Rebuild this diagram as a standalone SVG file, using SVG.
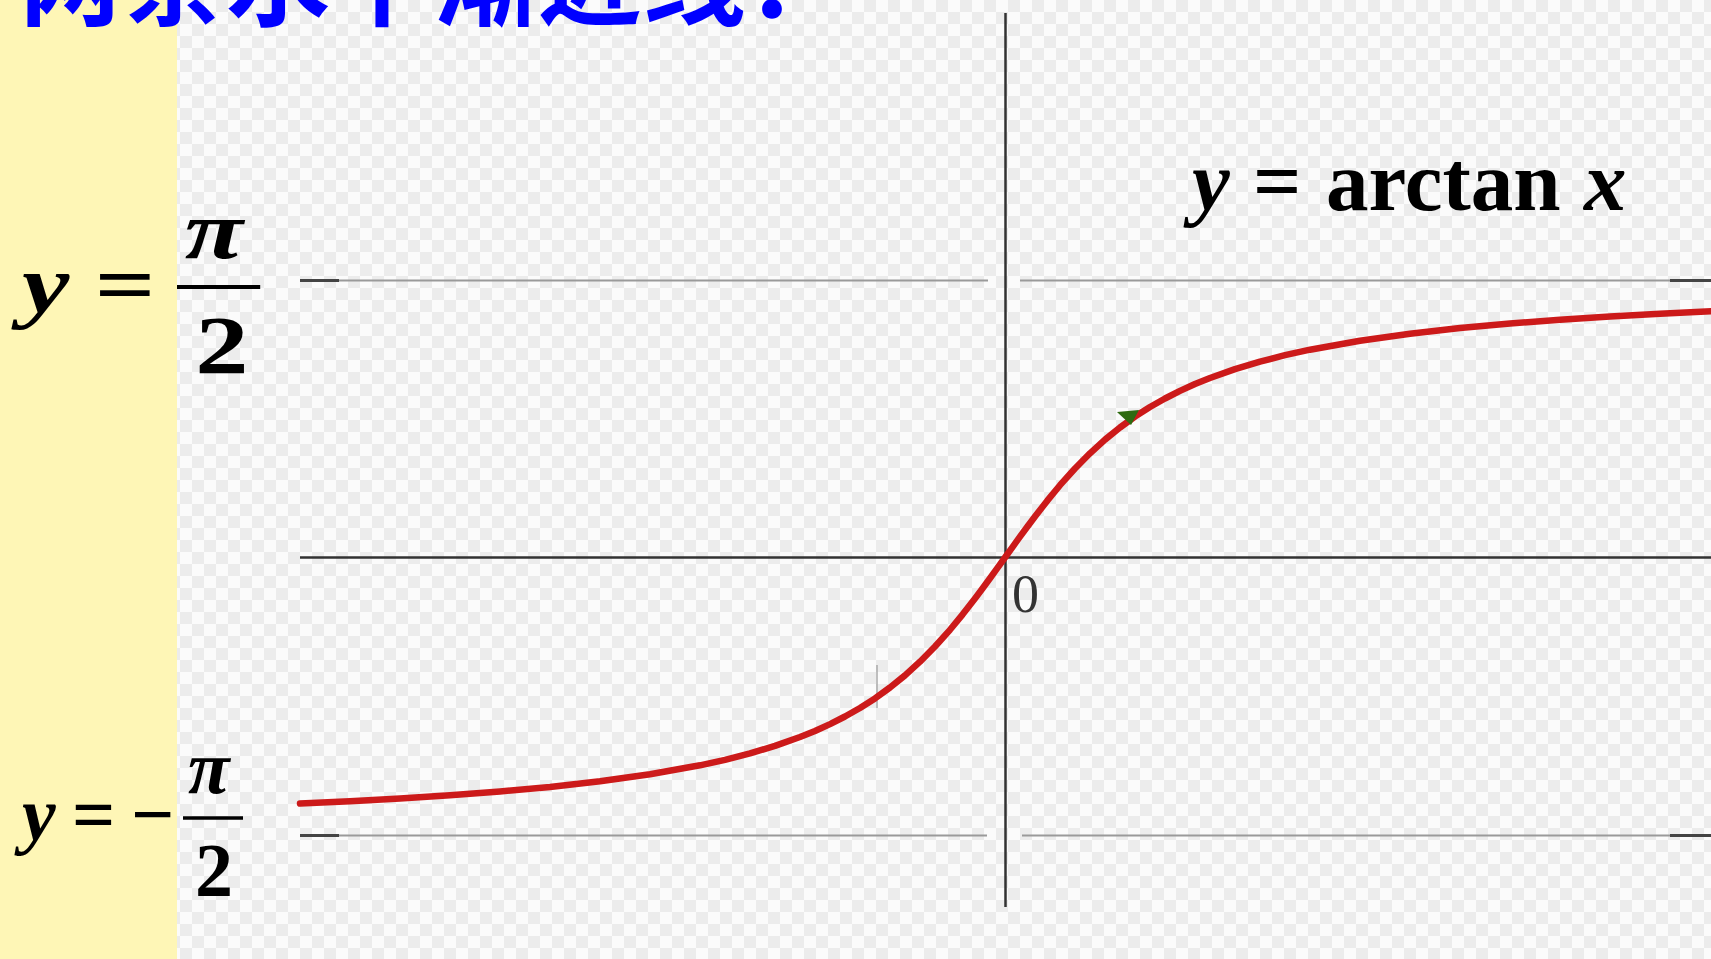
<svg xmlns="http://www.w3.org/2000/svg" width="1711" height="959" viewBox="0 0 1711 959">
  <style>
    .math { font-family: "Liberation Serif", "Times New Roman", serif; font-weight: bold; fill: #000; }
    .it { font-style: italic; }
    .asym { stroke: #9a9a9a; stroke-width: 2; fill: none; }
    .asymdark { stroke: #444; stroke-width: 3; fill: none; }
    .axis { stroke: #333; stroke-width: 2.5; fill: none; }
    .curve { stroke: #cc1a1a; stroke-width: 6.5; fill: none; stroke-linejoin: round; stroke-linecap: round; }
    .title { font-family: "Noto Sans CJK SC", "Noto Sans", sans-serif; font-size: 104px; fill: #0000ff; font-weight: bold; }
  </style>
  <defs>
    <pattern id="checker" x="0" y="0" width="24" height="24" patternUnits="userSpaceOnUse">
      <rect width="24" height="24" fill="#fbfbfb"/>
      <rect x="0" y="0" width="12" height="12" fill="#ececec"/>
      <rect x="12" y="12" width="12" height="12" fill="#ececec"/>
    </pattern>
  </defs>

  <rect id="background" x="0" y="0" width="1711" height="959" fill="url(#checker)"/>
  <rect id="sidebar" x="0" y="0" width="177" height="959" fill="#fef6b6"/>

  <g id="title">
    <text class="title" x="18" y="18">两条水平渐近线：</text>
  </g>

  <g id="asymptotes">
    <line class="asym" x1="300" y1="280.5" x2="988" y2="280.5"/>
    <line class="asym" x1="1020" y1="280.5" x2="1711" y2="280.5"/>
    <line class="asym" x1="300" y1="835.5" x2="987" y2="835.5"/>
    <line class="asym" x1="1022" y1="835.5" x2="1711" y2="835.5"/>
    <line class="asymdark" x1="300" y1="280.5" x2="339" y2="280.5"/>
    <line class="asymdark" x1="1670" y1="280.5" x2="1711" y2="280.5"/>
    <line class="asymdark" x1="300" y1="835.5" x2="339" y2="835.5"/>
    <line class="asymdark" x1="1670" y1="835.5" x2="1711" y2="835.5"/>
  </g>

  <g id="axes">
    <line class="axis" x1="300" y1="557.5" x2="1711" y2="557.5"/>
    <line class="axis" x1="1005.5" y1="13" x2="1005.5" y2="907"/>
    <line x1="877" y1="665" x2="877" y2="708" stroke="#aaa" stroke-width="1.5"/>
  </g>

  <g id="curve">
    <polyline class="curve" points="300,803.6 350,801.2 400,798.5 450,795.3 500,791.5 550,787.0 600,781.3 650,774.3 700,765.3 725,759.8 750,753.4 775,745.9 800,737.0 815,731.0 830,724.1 845,716.5 860,708.0 875,698.4 890,687.5 905,675.4 920,661.7 935,646.5 950,629.8 962.5,614.6 975,598.5 982.5,588.5 990,578.3 997.5,567.9 1005,557.5 1012.5,547.1 1020,536.7 1027.5,526.5 1035,516.5 1047.5,500.4 1060,485.2 1075,468.5 1090,453.3 1105,439.6 1120,427.5 1135,416.6 1150,407.0 1165,398.5 1180,390.9 1195,384.0 1210,378.0 1235,369.1 1260,361.6 1285,355.2 1310,349.7 1360,340.7 1410,333.7 1460,328.0 1510,323.5 1560,319.7 1610,316.5 1660,313.8 1711,311.3"/>
    <polygon points="1117,412 1139,410 1131,425" fill="#2f6b12"/>
  </g>

  <g id="label-origin">
    <text x="1012" y="612" font-family="Liberation Serif, serif" font-size="54" fill="#333">0</text>
  </g>

  <g id="label-function">
    <text class="math" font-size="85" y="210">
      <tspan class="it" x="1192">y</tspan><tspan x="1253">=</tspan><tspan x="1326">arctan</tspan><tspan class="it" x="1584">x</tspan>
    </text>
  </g>

  <g id="label-upper">
    <g transform="translate(22,0) scale(1.3,1)">
      <text class="math it" font-size="82" x="0" y="312">y</text>
      <text class="math" font-size="82" x="56" y="312">=</text>
    </g>
    <g transform="translate(177,0) scale(1.3,1)">
      <text class="math it" font-size="82" x="6" y="258">π</text>
      <line x1="0" y1="287" x2="64" y2="287" stroke="#000" stroke-width="4"/>
      <text class="math" font-size="82" x="14" y="373">2</text>
    </g>
  </g>

  <g id="label-lower">
    <text class="math it" font-size="76" x="22" y="840">y</text>
    <text class="math" font-size="76" x="72" y="840">=</text>
    <text class="math" font-size="76" x="131" y="840">−</text>
    <text class="math it" font-size="76" x="188" y="793">π</text>
    <line x1="183" y1="818" x2="243" y2="818" stroke="#000" stroke-width="3.5"/>
    <text class="math" font-size="76" x="195" y="896">2</text>
  </g>
</svg>
